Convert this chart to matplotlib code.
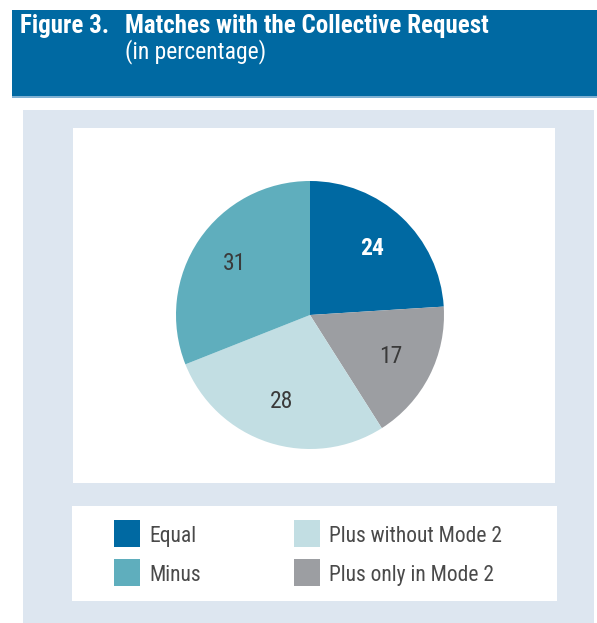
import numpy as np
import matplotlib
matplotlib.use("Agg")
import matplotlib.pyplot as plt
from matplotlib.patches import Rectangle

# ── Data ────────────────────────────────────────────────────────────────
CATEGORIES = ["Equal", "Plus only in Mode 2", "Plus without Mode 2", "Minus"]
VALUES = [24, 17, 28, 31]
COLORS = ["#0069a2", "#9c9ea2", "#c2dee3", "#5faebd"]
LABEL_COLORS = ["white", "#3a3a3a", "#3a3a3a", "#3a3a3a"]
LEGEND_ORDER = ["Equal", "Minus", "Plus without Mode 2", "Plus only in Mode 2"]

TITLE_NUM = "Figure 3."
TITLE = "Matches with the Collective Request"
SUBTITLE = "(in percentage)"

# ── Layout helpers (pixel coords, origin top-left) ─────────────────────
W, H = 597, 623
plt.rcParams["font.family"] = ["Roboto Condensed", "DejaVu Sans"]


def box(x0, y0, x1, y1):
    return [x0 / W, 1 - y1 / H, (x1 - x0) / W, (y1 - y0) / H]


def add_rect(fig, x0, y0, x1, y1, color):
    l, b, w, h = box(x0, y0, x1, y1)
    fig.patches.append(Rectangle((l, b), w, h, transform=fig.transFigure,
                                 facecolor=color, edgecolor="none", zorder=-10))


fig = plt.figure(figsize=(W / 100, H / 100), dpi=100)
fig.patch.set_facecolor("white")

# header band + panel backgrounds
add_rect(fig, 12, 10, 597, 98, "#0069a2")
add_rect(fig, 12, 96, 597, 98, "#7fb1d3")
add_rect(fig, 23, 110, 594, 623, "#dde6f0")
add_rect(fig, 73, 128, 555, 483, "white")
add_rect(fig, 72, 506, 557, 601, "white")

fig.text(20 / W, 1 - 33 / H, TITLE_NUM, color="white", fontsize=18,
         fontweight="bold", va="baseline")
fig.text(125 / W, 1 - 33 / H, TITLE, color="white", fontsize=18,
         fontweight="bold", va="baseline")
fig.text(125 / W, 1 - 58 / H, SUBTITLE, color="white", fontsize=17,
         va="baseline")

# ── Pie ─────────────────────────────────────────────────────────────────
ax = fig.add_axes(box(176, 181, 444, 449))
wedges, _ = ax.pie(VALUES, colors=COLORS, startangle=90, counterclock=False,
                   radius=1, wedgeprops=dict(linewidth=0))
ax.set_xlim(-1, 1)
ax.set_ylim(-1, 1)
ax.set_aspect("equal")
ax.axis("off")

for w, v, c in zip(wedges, VALUES, LABEL_COLORS):
    mid = np.deg2rad((w.theta1 + w.theta2) / 2)
    r = 0.68
    ax.text(r * np.cos(mid), r * np.sin(mid), f"{v}", ha="center",
            va="center", fontsize=17, color=c,
            fontweight="bold" if c == "white" else "normal")

# ── Legend ──────────────────────────────────────────────────────────────
lax = fig.add_axes([0, 0, 1, 1], zorder=-5)
lax.set_xlim(0, W)
lax.set_ylim(H, 0)
lax.axis("off")
color_of = dict(zip(CATEGORIES, COLORS))
col_x = [114, 294]
row_y = [520, 559]
for i, name in enumerate(LEGEND_ORDER):
    x = col_x[i // 2]
    y = row_y[i % 2]
    lax.add_patch(Rectangle((x, y), 26, 27, facecolor=color_of[name],
                            edgecolor="none"))
    lax.text(x + 35, y + 22, name, fontsize=15.5, color="#4a4a4a",
             va="baseline")

fig.savefig("out.png", dpi=100)
